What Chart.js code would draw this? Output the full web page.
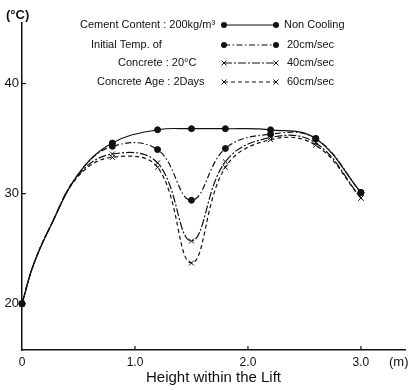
<!DOCTYPE html>
<html>
<head>
<meta charset="utf-8">
<script src="https://cdn.jsdelivr.net/npm/chart.js@4.4.1/dist/chart.umd.min.js"></script>
<style>
  html, body { margin: 0; padding: 0; background: #fff; }
  #wrap { width: 416px; height: 390px; }
</style>
</head>
<body>
<div id="wrap"><canvas id="chart" width="416" height="390"></canvas></div>
<script>
// Height within the lift (m) - includes a few unmarked points
const heights = [0, 0.1, 0.25, 0.5, 0.8, 1.2, 1.5, 1.8, 2.2, 2.6, 3.0];
// heights where the original draws a marker
const markedHeights = [0, 0.8, 1.2, 1.5, 1.8, 2.2, 2.6, 3.0];

// temperatures (°C)
const nonCooling = [20.0, 23.5, 27.0, 31.8, 34.6, 35.8, 35.9, 35.9, 35.8, 35.0, 30.1];
const cool20 = [20.0, 23.5, 27.0, 31.8, 34.3, 34.0, 29.4, 34.1, 35.4, 35.0, 30.1];
const cool40 = [20.0, 23.5, 27.0, 31.7, 33.6, 32.8, 25.7, 32.9, 35.1, 34.6, 29.6];
const cool60 = [20.0, 23.5, 27.0, 31.6, 33.3, 32.4, 23.7, 32.4, 34.9, 34.4, 29.6];

const xTicks = [0, 1, 2, 3];
const xTickLabels = ['0', '1.0', '2.0', '3.0'];
const yTicks = [20, 30, 40];

const conditionLines = ['Cement Content : 200kg/m³', 'Initial Temp. of', 'Concrete : 20°C', 'Concrete Age : 2Days'];
const seriesNames = ['Non Cooling', '20cm/sec', '40cm/sec', '60cm/sec'];

const INK = '#111';
const FONT = '"Liberation Sans", Arial, sans-serif';

const styles = [
    { dash: [], marker: 'circle' },
    { dash: [6, 2.5, 1.5, 2.5], marker: 'circle' },
    { dash: [8, 2, 2, 2], marker: 'crossRot' },
    { dash: [4, 3], marker: 'crossRot' }
];

function makeSet(values, i) {
    const st = styles[i];
    return {
        label: seriesNames[i],
        data: heights.map((h, k) => ({ x: h, y: values[k] })),
        borderColor: INK,
        backgroundColor: INK,
        borderWidth: 1.2,
        borderDash: st.dash,
        tension: 0.4,
        pointStyle: st.marker,
        pointRadius: ctx => markedHeights.includes(heights[ctx.dataIndex]) ? (st.marker === 'circle' ? 3 : 3.5) : 0,
        pointBorderWidth: 1,
        pointHoverRadius: 0,
        clip: false
    };
}

// draws the inward ticks, unit labels and the legend block
const extras = {
    id: 'extras',
    afterDraw(chart) {
        const ctx = chart.ctx;
        const xs = chart.scales.x, ys = chart.scales.y;
        const a = chart.chartArea;
        ctx.save();
        ctx.strokeStyle = INK;
        ctx.fillStyle = INK;
        ctx.lineWidth = 1.2;
        ctx.setLineDash([]);
        xTicks.slice(1).forEach(v => {
            const px = xs.getPixelForValue(v);
            ctx.beginPath(); ctx.moveTo(px, a.bottom); ctx.lineTo(px, a.bottom - 4); ctx.stroke();
        });
        yTicks.forEach(v => {
            const py = ys.getPixelForValue(v);
            ctx.beginPath(); ctx.moveTo(a.left, py); ctx.lineTo(a.left + 4, py); ctx.stroke();
        });

        ctx.textBaseline = 'middle';
        ctx.textAlign = 'left';
        ctx.font = 'bold 13px ' + FONT;
        ctx.fillText('(°C)', 6, 15);
        ctx.font = '13px ' + FONT;
        ctx.fillText('(m)', 389, 362);

        // legend block
        const rows = [25, 45, 63, 82];
        const leftX = [80, 91, 118, 97];
        const labX = [284, 287, 287, 287];
        ctx.font = '11px ' + FONT;
        rows.forEach((y, i) => {
            ctx.fillText(conditionLines[i], leftX[i], y);
            ctx.fillText(seriesNames[i], labX[i], y);
            const x0 = 224, x1 = 276;
            ctx.setLineDash(styles[i].dash);
            ctx.lineWidth = 1.2;
            ctx.beginPath(); ctx.moveTo(x0, y); ctx.lineTo(x1, y); ctx.stroke();
            ctx.setLineDash([]);
            [x0, x1].forEach(x => {
                if (styles[i].marker === 'circle') {
                    ctx.beginPath(); ctx.arc(x, y, 3, 0, Math.PI * 2); ctx.fill();
                } else {
                    ctx.lineWidth = 1;
                    ctx.beginPath();
                    ctx.moveTo(x - 2.5, y - 2.5); ctx.lineTo(x + 2.5, y + 2.5);
                    ctx.moveTo(x + 2.5, y - 2.5); ctx.lineTo(x - 2.5, y + 2.5);
                    ctx.stroke();
                }
            });
        });
        ctx.restore();
    }
};

new Chart(document.getElementById('chart'), {
    type: 'line',
    data: {
        datasets: [nonCooling, cool20, cool40, cool60].map(makeSet)
    },
    options: {
        responsive: false,
        animation: false,
        layout: { padding: { top: 23, right: 11, left: 0, bottom: 0 } },
        plugins: {
            legend: { display: false },
            tooltip: { enabled: false }
        },
        scales: {
            x: {
                type: 'linear',
                min: 0,
                max: 3.39,
                afterBuildTicks: s => { s.ticks = xTicks.map(v => ({ value: v })); },
                afterFit: s => { s.height = 40; },
                grid: { display: true, drawOnChartArea: false, drawTicks: false },
                border: { color: INK, width: 1.5 },
                ticks: {
                    color: INK,
                    padding: 5,
                    maxRotation: 0,
                    font: { family: FONT, size: 12 },
                    callback: v => xTickLabels[xTicks.indexOf(v)]
                },
                title: {
                    display: true,
                    text: 'Height within the Lift',
                    color: INK,
                    font: { family: FONT, size: 15 },
                    padding: { top: 0, bottom: 3 }
                }
            },
            y: {
                min: 15.8,
                max: 45.5,
                afterBuildTicks: s => { s.ticks = yTicks.map(v => ({ value: v })); },
                afterFit: s => { s.width = 22; },
                grid: { display: true, drawOnChartArea: false, drawTicks: false },
                border: { color: INK, width: 1.5 },
                ticks: {
                    color: INK,
                    padding: 3,
                    font: { family: FONT, size: 13 }
                }
            }
        }
    },
    plugins: [extras]
});
</script>
</body>
</html>
